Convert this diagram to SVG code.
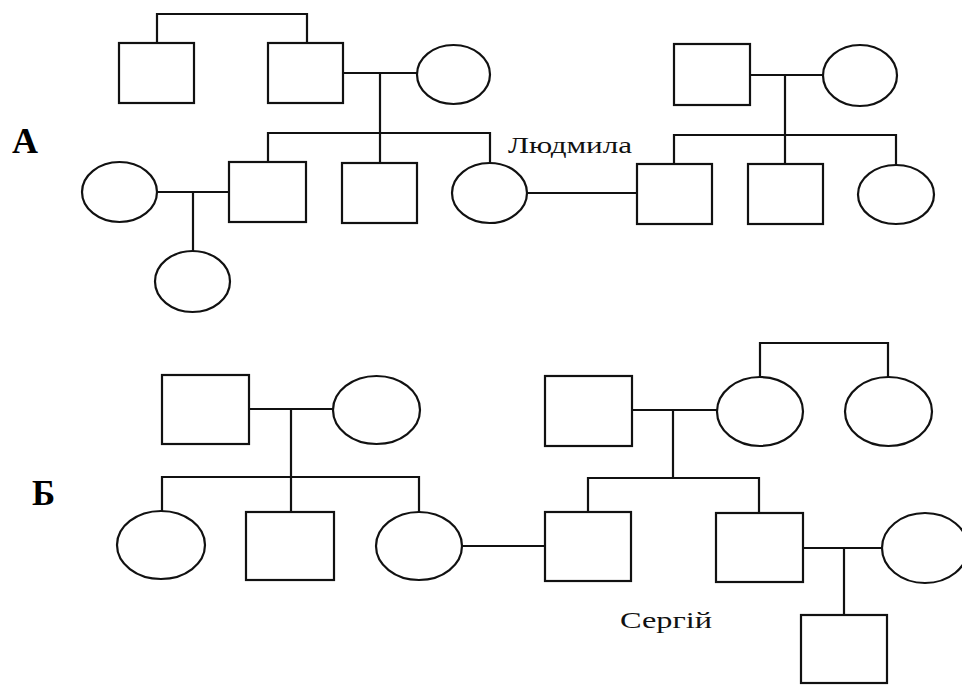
<svg xmlns="http://www.w3.org/2000/svg" width="962" height="686" viewBox="0 0 962 686">
<style>
.n{fill:none;stroke:#111;stroke-width:2.2}
.c{fill:none;stroke:#111;stroke-width:2.2}
.lbl{font-family:"Liberation Serif","DejaVu Serif",serif;font-weight:bold;fill:#000}
.name{font-family:"Liberation Serif","DejaVu Serif",serif;font-size:24px;fill:#111}
</style>
<rect width="962" height="686" fill="#fff"/>
<text class="lbl" x="12" y="153" font-size="36">А</text>
<text class="lbl" x="32" y="505" font-size="35">Б</text>
<text class="name" x="508" y="153" textLength="124" lengthAdjust="spacingAndGlyphs">Людмила</text>
<text class="name" x="620" y="628" textLength="92" lengthAdjust="spacingAndGlyphs">Сергій</text>
<g id="connectors">
<polyline class="c" points="157,43 157,14 307,14 307,43"/>
<line class="c" x1="343" y1="73" x2="417" y2="73"/>
<line class="c" x1="380" y1="73" x2="380" y2="163"/>
<polyline class="c" points="268,162 268,133 490,133 490,163"/>
<line class="c" x1="157" y1="192" x2="229" y2="192"/>
<line class="c" x1="193" y1="192" x2="193" y2="251"/>
<line class="c" x1="527" y1="193" x2="637" y2="193"/>
<line class="c" x1="750" y1="75" x2="823" y2="75"/>
<line class="c" x1="785" y1="75" x2="785" y2="164"/>
<polyline class="c" points="674,164 674,135 896,135 896,165"/>
<line class="c" x1="249" y1="409" x2="333" y2="409"/>
<line class="c" x1="291" y1="409" x2="291" y2="512"/>
<polyline class="c" points="162,511 162,477 419,477 419,512"/>
<line class="c" x1="462" y1="546" x2="545" y2="546"/>
<line class="c" x1="632" y1="410" x2="717" y2="410"/>
<line class="c" x1="673" y1="410" x2="673" y2="478"/>
<polyline class="c" points="588,512 588,478 759,478 759,513"/>
<polyline class="c" points="760,377 760,343 888,343 888,377"/>
<line class="c" x1="803" y1="548" x2="882" y2="548"/>
<line class="c" x1="844" y1="548" x2="844" y2="615"/>
</g>
<g id="A-uncle"><rect class="n" x="119" y="43" width="75" height="60"/></g>
<g id="A-grandfather1"><rect class="n" x="268" y="43" width="75" height="60"/></g>
<g id="A-grandmother1"><ellipse class="n" cx="453.5" cy="74.5" rx="36.5" ry="29.5"/></g>
<g id="A-wife"><ellipse class="n" cx="119.5" cy="192" rx="37.5" ry="30"/></g>
<g id="A-son1"><rect class="n" x="229" y="162" width="77" height="60"/></g>
<g id="A-son2"><rect class="n" x="342" y="163" width="75" height="60"/></g>
<g id="A-ludmyla"><ellipse class="n" cx="489.5" cy="193" rx="37.5" ry="30"/></g>
<g id="A-granddaughter"><ellipse class="n" cx="192.5" cy="281.5" rx="37.5" ry="30.5"/></g>
<g id="A-grandfather2"><rect class="n" x="674" y="44" width="76" height="61"/></g>
<g id="A-grandmother2"><ellipse class="n" cx="860" cy="75.5" rx="37" ry="30.5"/></g>
<g id="A-husband"><rect class="n" x="637" y="164" width="75" height="60"/></g>
<g id="A-son3"><rect class="n" x="748" y="164" width="75" height="60"/></g>
<g id="A-daughter"><ellipse class="n" cx="896" cy="194.5" rx="38" ry="29.5"/></g>
<g id="B-father1"><rect class="n" x="162" y="375" width="87" height="69"/></g>
<g id="B-mother1"><ellipse class="n" cx="376.5" cy="410" rx="43.5" ry="34"/></g>
<g id="B-daughter1"><ellipse class="n" cx="161" cy="545" rx="44" ry="34"/></g>
<g id="B-son1"><rect class="n" x="246" y="512" width="88" height="68"/></g>
<g id="B-daughter2"><ellipse class="n" cx="419" cy="546" rx="43" ry="34"/></g>
<g id="B-father2"><rect class="n" x="545" y="376" width="87" height="70"/></g>
<g id="B-mother2"><ellipse class="n" cx="760" cy="411.5" rx="43" ry="34.5"/></g>
<g id="B-aunt"><ellipse class="n" cx="888.5" cy="411.5" rx="43.5" ry="34.5"/></g>
<g id="B-serhiy"><rect class="n" x="545" y="512" width="86" height="69"/></g>
<g id="B-son2"><rect class="n" x="716" y="513" width="87" height="69"/></g>
<g id="B-wife"><ellipse class="n" cx="925" cy="548" rx="43" ry="35"/></g>
<g id="B-grandson"><rect class="n" x="801" y="615" width="86" height="68"/></g>
</svg>
